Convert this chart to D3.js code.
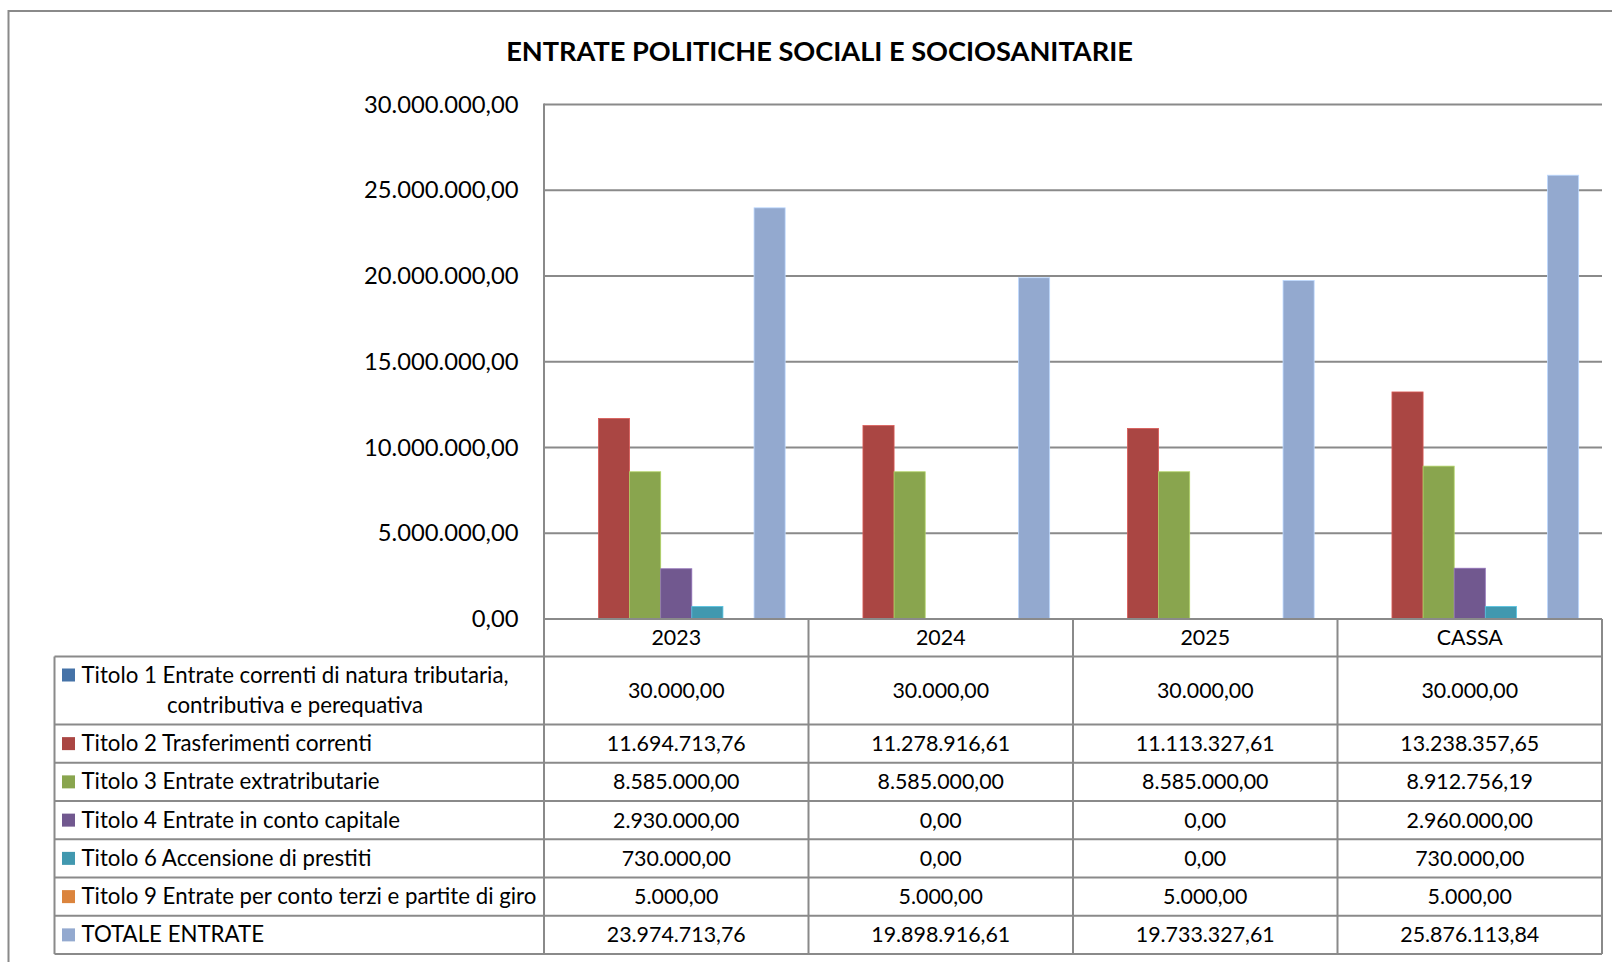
<!DOCTYPE html>
<html>
<head>
<meta charset="utf-8">
<script src="https://cdn.jsdelivr.net/npm/d3@7/dist/d3.min.js"></script>
<style>
  html, body { margin: 0; padding: 0; background: #ffffff; }
  svg { display: block; }
  text { font-family: Lato, "Open Sans", "DejaVu Sans", sans-serif; fill: #000; }
</style>
</head>
<body>
<svg id="chart" width="1612" height="962"></svg>
<script>
// ---------------- DATA ----------------
const chartTitle = "ENTRATE POLITICHE SOCIALI E SOCIOSANITARIE";
const categories = ["2023", "2024", "2025", "CASSA"];
const seriesNames = [
  "Titolo 1 Entrate correnti di natura tributaria, contributiva e perequativa",
  "Titolo 2 Trasferimenti correnti",
  "Titolo 3 Entrate extratributarie",
  "Titolo 4 Entrate in conto capitale",
  "Titolo 6 Accensione di prestiti",
  "Titolo 9 Entrate per conto terzi e partite di giro",
  "TOTALE ENTRATE"
];
const titolo1 = [30000.00, 30000.00, 30000.00, 30000.00];
const titolo2 = [11694713.76, 11278916.61, 11113327.61, 13238357.65];
const titolo3 = [8585000.00, 8585000.00, 8585000.00, 8912756.19];
const titolo4 = [2930000.00, 0.00, 0.00, 2960000.00];
const titolo6 = [730000.00, 0.00, 0.00, 730000.00];
const titolo9 = [5000.00, 5000.00, 5000.00, 5000.00];
const totale  = [23974713.76, 19898916.61, 19733327.61, 25876113.84];
const yTicks = [0, 5000000, 10000000, 15000000, 20000000, 25000000, 30000000];
const seriesColors = ["#4572A7", "#AA4643", "#89A54E", "#71588F", "#4198AF", "#DB843D", "#93A9CF"];

const seriesValues = [titolo1, titolo2, titolo3, titolo4, titolo6, titolo9, totale];
const series = seriesNames.map((name, i) => ({ name, values: seriesValues[i], color: seriesColors[i] }));

// ---------------- LAYOUT ----------------
const svg = d3.select("#chart");
const W = 1612, H = 962;
const plotLeft = 544, plotRight = 1602, plotTop = 104.5, plotBottom = 619;
const tableLeft = 54.5, tableTop = 656.5, firstRowH = 68, rowH = 38.25;
const gridColor = "#8a8a8a";
const textShift = -1;

const itLocale = d3.formatLocale({ decimal: ",", thousands: ".", grouping: [3], currency: ["€", ""] });
const fmt = itLocale.format(",.2f");

// font fitting helper (to approximate Calibri widths)
function fitSize(sample, target, weight) {
  const t = svg.append("text").attr("font-size", 100).attr("font-weight", weight || "normal").text(sample);
  const w = t.node().getComputedTextLength();
  t.remove();
  return 100 * target / w;
}
const titleSize = fitSize(chartTitle, 627, "bold");
const yLabSize = fitSize("30.000.000,00", 154.5);
const valSize = fitSize("11.694.713,76", 139);
const legSize = fitSize(seriesNames[5], 455);

// outer border
svg.append("path")
  .attr("d", `M8.5,${H + 5} L8.5,11 L${W + 5},11`)
  .attr("fill", "none").attr("stroke", gridColor).attr("stroke-width", 2);

// title
svg.append("text")
  .attr("x", 819.5).attr("y", 50.5)
  .attr("text-anchor", "middle").attr("dominant-baseline", "central")
  .attr("font-weight", "bold").attr("font-size", titleSize)
  .text(chartTitle);

// scales
const y = d3.scaleLinear().domain([0, 30000000]).range([plotBottom, plotTop]);
const x0 = d3.scaleBand().domain(categories).range([plotLeft, plotRight]).padding(0);
const x1 = d3.scaleBand().domain(d3.range(series.length)).range([0, x0.bandwidth()]).paddingInner(0).paddingOuter(0.75);

// gridlines
svg.append("g").selectAll("line").data(yTicks.filter(d => d > 0)).join("line")
  .attr("x1", plotLeft).attr("x2", plotRight)
  .attr("y1", d => y(d)).attr("y2", d => y(d))
  .attr("stroke", gridColor).attr("stroke-width", 2);

// y axis labels via d3 axis
const yAxis = d3.axisLeft(y).tickValues(yTicks).tickFormat(fmt).tickSize(0).tickPadding(0);
const yg = svg.append("g").attr("transform", `translate(${518.5},${textShift - 0.5})`).call(yAxis);
yg.select(".domain").remove();
yg.selectAll("text")
  .attr("font-size", yLabSize)
  .attr("font-family", "Lato, 'Open Sans', sans-serif")
  .attr("fill", "#000")
  .attr("dy", null)
  .attr("dominant-baseline", "central");

// bars
const groups = svg.append("g").selectAll("g").data(series).join("g");
groups.selectAll("rect")
  .data((s, si) => categories.map((c, ci) => ({ c, v: s.values[ci], si, color: s.color })))
  .join("rect")
  .attr("x", d => x0(d.c) + x1(d.si))
  .attr("width", x1.bandwidth())
  .attr("y", d => y(d.v))
  .attr("height", d => plotBottom - y(d.v))
  .attr("fill", d => d.color)
  .attr("stroke", d => d.v > 0 ? d3.color(d.color).brighter(0.7) : "none")
  .attr("stroke-width", 0.8);

// table rows
const rowTops = [tableTop];
for (let i = 0; i < series.length; i++) {
  rowTops.push(rowTops[i] + (i === 0 ? firstRowH : rowH));
}
const tableBottom = rowTops[rowTops.length - 1];

const lines = svg.append("g").attr("stroke", gridColor).attr("stroke-width", 2).attr("fill", "none");
// axis line (zero)
lines.append("line").attr("x1", plotLeft).attr("x2", plotRight).attr("y1", plotBottom).attr("y2", plotBottom);
// horizontal table lines
rowTops.forEach(t => {
  lines.append("line").attr("x1", tableLeft).attr("x2", plotRight).attr("y1", t).attr("y2", t);
});
// vertical lines
lines.append("line").attr("x1", tableLeft).attr("x2", tableLeft).attr("y1", tableTop).attr("y2", tableBottom);
lines.append("line").attr("x1", plotLeft).attr("x2", plotLeft).attr("y1", plotTop - 1).attr("y2", tableBottom);
categories.forEach(c => {
  const xr = x0(c) + x0.bandwidth();
  lines.append("line").attr("x1", xr).attr("x2", xr).attr("y1", plotBottom).attr("y2", tableBottom);
});

// category header labels
svg.append("g").selectAll("text").data(categories).join("text")
  .attr("x", d => x0(d) + x0.bandwidth() / 2)
  .attr("y", (plotBottom + tableTop) / 2 + 0.5 + textShift)
  .attr("text-anchor", "middle").attr("dominant-baseline", "central")
  .attr("font-size", valSize)
  .text(d => d);

// legend cells + values
series.forEach((s, i) => {
  const top = rowTops[i], bot = rowTops[i + 1];
  const mid = (top + bot) / 2;
  const g = svg.append("g");
  if (i === 0) {
    const line1 = "Titolo 1 Entrate correnti di natura tributaria,";
    const line2 = "contributiva e perequativa";
    const l1y = mid - 15.5, l2y = mid + 14.5;
    g.append("rect").attr("x", 62).attr("y", l1y - 6.5).attr("width", 13).attr("height", 13).attr("fill", s.color);
    const t1 = g.append("text").attr("x", 81.5).attr("y", l1y + textShift).attr("dominant-baseline", "central")
      .attr("font-size", legSize).text(line1);
    const w1 = t1.node().getComputedTextLength();
    g.append("text").attr("x", 81.5 + w1 / 2).attr("y", l2y + textShift).attr("text-anchor", "middle")
      .attr("dominant-baseline", "central").attr("font-size", legSize).text(line2);
  } else {
    g.append("rect").attr("x", 62).attr("y", mid - 6.5).attr("width", 13).attr("height", 13).attr("fill", s.color);
    g.append("text").attr("x", 81.5).attr("y", mid + textShift).attr("dominant-baseline", "central")
      .attr("font-size", legSize).text(s.name);
  }
  categories.forEach((c, ci) => {
    g.append("text")
      .attr("x", x0(c) + x0.bandwidth() / 2).attr("y", mid + 0.5 + textShift)
      .attr("text-anchor", "middle").attr("dominant-baseline", "central")
      .attr("font-size", valSize)
      .text(fmt(s.values[ci]));
  });
});
</script>
</body>
</html>
